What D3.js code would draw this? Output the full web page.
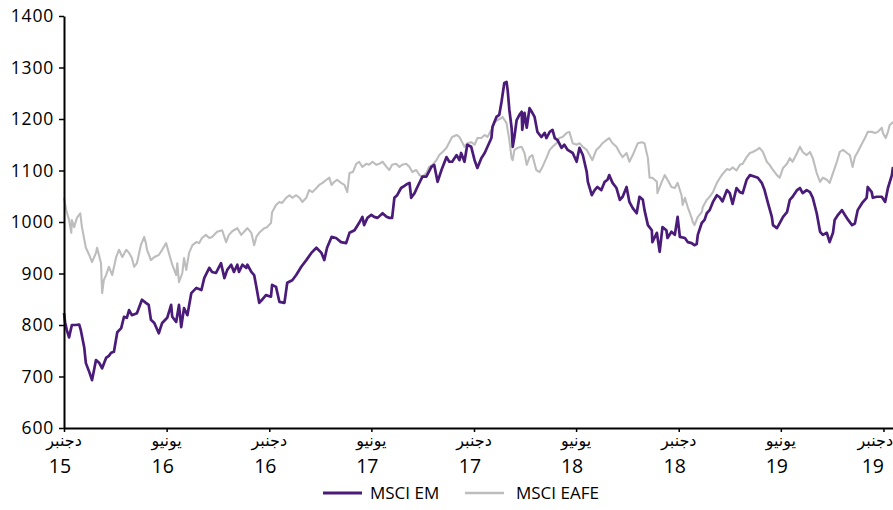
<!DOCTYPE html>
<html>
<head>
<meta charset="utf-8">
<script src="https://cdn.jsdelivr.net/npm/d3@7"></script>
<style>
  html, body { margin: 0; padding: 0; background: #fff; }
  svg { display: block; }
  .num { font-family: "Open Sans", "Noto Sans", sans-serif; fill: #000; }
  .ar { font-family: "DejaVu Sans", sans-serif; fill: #000; }
</style>
</head>
<body>
<svg id="chart" width="893" height="510"></svg>
<script>
// ---------------- DATA ----------------
const seriesNames = ["MSCI EM", "MSCI EAFE"];

const emDates = [
"2015-12-01","2015-12-03","2015-12-06","2015-12-10","2015-12-15","2015-12-22","2015-12-28","2015-12-31",
"2016-01-06","2016-01-09","2016-01-15","2016-01-20","2016-01-24","2016-01-27",
"2016-02-02","2016-02-07","2016-02-14","2016-02-19","2016-02-23","2016-02-28",
"2016-03-05","2016-03-12","2016-03-17","2016-03-22","2016-03-26","2016-03-31",
"2016-04-09","2016-04-18","2016-04-25","2016-04-30",
"2016-05-04","2016-05-10","2016-05-18","2016-05-24",
"2016-06-02","2016-06-09","2016-06-11","2016-06-18","2016-06-23","2016-06-27",
"2016-07-02","2016-07-08","2016-07-15","2016-07-24",
"2016-08-02","2016-08-07","2016-08-16","2016-08-21","2016-08-28",
"2016-09-06","2016-09-12","2016-09-17","2016-09-24","2016-09-29",
"2016-10-05","2016-10-08","2016-10-14","2016-10-21","2016-10-23","2016-10-30",
"2016-11-04","2016-11-08","2016-11-13","2016-11-18","2016-11-25",
"2016-12-04","2016-12-06","2016-12-13","2016-12-19","2016-12-28",
"2017-01-02","2017-01-11","2017-01-18","2017-01-27",
"2017-02-05","2017-02-14","2017-02-23",
"2017-03-04","2017-03-09","2017-03-14","2017-03-22","2017-03-30",
"2017-04-08","2017-04-17","2017-04-23",
"2017-05-02","2017-05-10","2017-05-16","2017-05-19","2017-05-25",
"2017-06-01","2017-06-06","2017-06-12","2017-06-21","2017-06-28",
"2017-07-03","2017-07-08","2017-07-12","2017-07-17","2017-07-24","2017-07-30",
"2017-08-04","2017-08-08","2017-08-11","2017-08-17","2017-08-22","2017-08-31",
"2017-09-07","2017-09-16","2017-09-21","2017-09-27",
"2017-10-04","2017-10-13","2017-10-18","2017-10-23","2017-10-31",
"2017-11-05","2017-11-08","2017-11-14","2017-11-19","2017-11-26",
"2017-12-02","2017-12-07","2017-12-14","2017-12-20","2017-12-25",
"2018-01-01","2018-01-03","2018-01-10","2018-01-15","2018-01-19","2018-01-24","2018-01-28","2018-01-30",
"2018-02-02","2018-02-06","2018-02-08","2018-02-11","2018-02-15","2018-02-20","2018-02-24","2018-02-25",
"2018-03-01","2018-03-05","2018-03-10","2018-03-15","2018-03-19","2018-03-24","2018-03-31",
"2018-04-06","2018-04-09","2018-04-15","2018-04-20","2018-04-24","2018-04-29",
"2018-05-06","2018-05-11","2018-05-17","2018-05-26",
"2018-06-02","2018-06-07","2018-06-13","2018-06-20","2018-06-22","2018-06-29",
"2018-07-04","2018-07-09","2018-07-16","2018-07-22","2018-07-27","2018-07-30",
"2018-08-05","2018-08-12","2018-08-18","2018-08-23","2018-08-30",
"2018-09-04","2018-09-10","2018-09-17","2018-09-22","2018-09-28",
"2018-10-01","2018-10-07","2018-10-14","2018-10-15","2018-10-23","2018-10-28",
"2018-11-02","2018-11-09","2018-11-11","2018-11-18","2018-11-24","2018-11-29",
"2018-12-03","2018-12-12","2018-12-17","2018-12-24","2018-12-29",
"2019-01-02","2019-01-04","2019-01-11","2019-01-16","2019-01-20","2019-01-25","2019-01-31",
"2019-02-07","2019-02-12","2019-02-17","2019-02-25",
"2019-03-02","2019-03-07","2019-03-14","2019-03-20","2019-03-25",
"2019-04-01","2019-04-07","2019-04-16","2019-04-21","2019-04-28",
"2019-05-03","2019-05-09","2019-05-16","2019-05-18","2019-05-25","2019-05-30",
"2019-06-05","2019-06-12","2019-06-17","2019-06-22","2019-06-30",
"2019-07-05","2019-07-10","2019-07-17","2019-07-23","2019-07-28",
"2019-08-04","2019-08-10","2019-08-15","2019-08-22","2019-08-27",
"2019-09-02","2019-09-05","2019-09-11","2019-09-18","2019-09-23","2019-09-29",
"2019-10-06","2019-10-11","2019-10-16","2019-10-24",
"2019-11-01","2019-11-03","2019-11-10","2019-11-12","2019-11-19","2019-11-28",
"2019-12-04","2019-12-09","2019-12-16","2019-12-18"
];
const emValues = [
823,805,790,776,800,800,801,790,
757,726,709,693,715,732,
726,716,736,740,746,748,
786,794,816,814,829,819,
823,849,843,839,
810,804,784,804,
814,839,816,806,839,796,
833,819,862,872,
868,891,911,903,901,
920,891,907,917,903,
917,903,917,911,917,903,
897,874,843,849,858,
855,878,874,845,843,
882,887,897,913,
926,940,950,
940,926,950,971,969,
961,959,979,
984,998,1010,994,1008,
1014,1010,1008,1017,1010,
1008,1008,1047,1052,1066,1070,
1074,1076,1047,1056,1068,1088,
1088,1107,1111,1078,
1101,1126,1117,1117,1130,
1120,1134,1117,1150,1146,
1120,1105,1124,1134,1146,
1163,1185,1204,1208,1233,1270,1272,1256,
1218,1183,1146,1165,1198,1208,1214,1179,
1212,1183,1221,1212,1204,1175,1165,
1173,1163,1175,1179,1163,1159,
1144,1150,1140,1134,
1117,1144,1130,1097,1078,1052,
1062,1068,1062,1078,1082,1091,
1076,1066,1043,1049,1068,
1039,1027,1017,1049,1043,
1023,994,984,961,979,942,
990,984,969,981,975,1010,
971,969,961,959,955,
957,975,998,1004,1017,1023,1039,
1052,1048,1040,1062,
1056,1035,1066,1058,1056,
1082,1091,1088,1086,1076,
1062,1037,1010,994,988,998,
1010,1019,1043,1049,1062,
1066,1056,1062,1058,1047,
1017,981,975,979,961,
979,1004,1014,1023,1014,1004,
994,997,1023,1037,
1047,1068,1058,1047,1049,1049,
1039,1066,1091,1107
];

const eafeDates = [
"2015-12-01","2015-12-05","2015-12-10","2015-12-14","2015-12-15","2015-12-19","2015-12-24","2015-12-30",
"2016-01-02","2016-01-09","2016-01-15","2016-01-20","2016-01-27","2016-01-29",
"2016-02-05","2016-02-07","2016-02-10","2016-02-14","2016-02-19","2016-02-25",
"2016-03-03","2016-03-08","2016-03-14","2016-03-21","2016-03-26","2016-03-31",
"2016-04-04","2016-04-09","2016-04-16","2016-04-22","2016-04-25","2016-04-27",
"2016-05-04","2016-05-10","2016-05-18","2016-05-24","2016-05-31",
"2016-06-06","2016-06-11","2016-06-18","2016-06-20","2016-06-23","2016-06-29",
"2016-07-02","2016-07-06","2016-07-11","2016-07-17","2016-07-24","2016-07-29",
"2016-08-03","2016-08-10","2016-08-16","2016-08-21","2016-08-30",
"2016-09-08","2016-09-15","2016-09-20","2016-09-26",
"2016-10-05","2016-10-12","2016-10-17","2016-10-23","2016-10-30",
"2016-11-04","2016-11-08","2016-11-13","2016-11-22","2016-11-27",
"2016-12-04","2016-12-06","2016-12-13","2016-12-19","2016-12-24","2016-12-31",
"2017-01-06","2017-01-11","2017-01-18","2017-01-24","2017-01-29",
"2017-02-05","2017-02-10","2017-02-16","2017-02-23","2017-02-28",
"2017-03-06","2017-03-13","2017-03-18","2017-03-22","2017-03-27",
"2017-04-01","2017-04-08","2017-04-14","2017-04-19","2017-04-23","2017-04-29",
"2017-05-05","2017-05-10","2017-05-16","2017-05-23","2017-05-28",
"2017-06-03","2017-06-10","2017-06-15","2017-06-21","2017-06-28",
"2017-07-03","2017-07-08","2017-07-15","2017-07-21","2017-07-26",
"2017-08-02","2017-08-08","2017-08-13","2017-08-20","2017-08-26","2017-08-31",
"2017-09-07","2017-09-12","2017-09-18","2017-09-25","2017-09-30",
"2017-10-06","2017-10-13","2017-10-18","2017-10-23","2017-10-31",
"2017-11-05","2017-11-08","2017-11-14","2017-11-19","2017-11-26",
"2017-12-02","2017-12-07","2017-12-14","2017-12-20","2017-12-25",
"2018-01-01","2018-01-07","2018-01-12","2018-01-19","2018-01-21","2018-01-28","2018-01-30",
"2018-02-02","2018-02-06","2018-02-08","2018-02-11","2018-02-17","2018-02-24",
"2018-03-01","2018-03-05","2018-03-10","2018-03-15","2018-03-22","2018-03-28",
"2018-04-02","2018-04-09","2018-04-15","2018-04-20","2018-04-27",
"2018-05-02","2018-05-08","2018-05-15","2018-05-20","2018-05-26",
"2018-06-02","2018-06-07","2018-06-13","2018-06-20","2018-06-25","2018-06-30",
"2018-07-07","2018-07-13","2018-07-18","2018-07-25","2018-07-30",
"2018-08-05","2018-08-12","2018-08-18","2018-08-23","2018-08-30",
"2018-09-04","2018-09-10","2018-09-19","2018-09-26",
"2018-10-01","2018-10-07","2018-10-10","2018-10-15","2018-10-23","2018-10-24","2018-10-31",
"2018-11-06","2018-11-11","2018-11-18","2018-11-24","2018-11-29",
"2018-12-06","2018-12-08","2018-12-12","2018-12-17","2018-12-24","2018-12-26","2018-12-29",
"2019-01-04","2019-01-11","2019-01-13","2019-01-20","2019-01-25","2019-01-31",
"2019-02-07","2019-02-12","2019-02-17","2019-02-25",
"2019-03-02","2019-03-07","2019-03-14","2019-03-20","2019-03-25",
"2019-04-01","2019-04-07","2019-04-12","2019-04-19","2019-04-24","2019-04-30",
"2019-05-07","2019-05-12","2019-05-18","2019-05-25","2019-05-30",
"2019-06-05","2019-06-12","2019-06-17","2019-06-22","2019-06-30",
"2019-07-05","2019-07-10","2019-07-17","2019-07-23","2019-07-28",
"2019-08-04","2019-08-10","2019-08-15","2019-08-22","2019-08-27",
"2019-09-02","2019-09-09","2019-09-14","2019-09-20","2019-09-27",
"2019-10-02","2019-10-07","2019-10-11","2019-10-16","2019-10-24","2019-10-29",
"2019-11-03","2019-11-10","2019-11-16","2019-11-21","2019-11-28","2019-11-30",
"2019-12-05","2019-12-09","2019-12-12","2019-12-18"
];
const eafeValues = [
1047,1023,1004,979,1004,990,1008,1017,
990,950,936,922,940,950,
920,862,887,897,913,897,
932,946,932,946,940,930,
913,920,955,971,959,946,
926,932,936,946,959,
936,917,897,920,883,901,
930,907,940,955,961,959,
969,975,969,971,981,
984,961,975,982,
988,975,981,988,979,
955,971,979,988,990,
998,1019,1033,1039,1037,1047,
1052,1047,1052,1047,1039,
1047,1062,1058,1066,1072,
1076,1082,1086,1072,1078,
1082,1076,1072,1058,1095,1097,
1113,1117,1107,1113,1111,
1117,1111,1113,1117,1107,
1101,1111,1113,1107,1111,
1113,1107,1097,1101,1091,1088,
1095,1107,1111,1120,1130,
1136,1144,1155,1165,1169,
1165,1159,1146,1153,1155,
1150,1163,1163,1169,1165,
1179,1194,1198,1202,1204,1192,1179,
1159,1124,1120,1140,1144,1146,
1134,1111,1126,1130,1101,1097,
1107,1124,1140,1146,1153,
1163,1165,1173,1175,1153,
1150,1153,1146,1140,1130,1120,
1140,1146,1153,1159,1163,
1153,1146,1134,1126,1134,
1117,1130,1153,1155,
1153,1124,1086,1086,1078,1056,1076,
1091,1082,1068,1066,1076,
1052,1033,1047,1029,1008,1000,994,
1010,1019,1029,1043,1049,1058,
1076,1085,1093,1103,
1101,1106,1100,1111,1113,
1126,1134,1136,1140,1144,1136,
1117,1111,1101,1091,1086,
1105,1113,1124,1117,1134,
1146,1136,1130,1136,1124,
1095,1078,1086,1082,1076,
1095,1117,1136,1140,1134,
1130,1107,1126,1136,1153,1163,
1175,1175,1173,1175,1183,1173,
1163,1175,1188,1194
];

const xTickDates = ["2015-12-01","2016-06-01","2016-12-01","2017-06-01","2017-12-01","2018-06-01","2018-12-01","2019-06-01","2019-12-01"];
const xTickMonths = ["دجنبر","يونيو","دجنبر","يونيو","دجنبر","يونيو","دجنبر","يونيو","دجنبر"];
const xTickYears = ["15","16","16","17","17","18","18","19","19"];
const yTicks = [600,700,800,900,1000,1100,1200,1300,1400];
const xDomain = ["2015-12-01","2019-12-18"];

// ---------------- DRAW ----------------
(function () {
  const parse = d3.timeParse("%Y-%m-%d");
  const colors = { "MSCI EM": "#4a1b78", "MSCI EAFE": "#bdbdbd" };
  const widths = { "MSCI EM": 2.7, "MSCI EAFE": 2.1 };
  const W = 893;

  const svg = d3.select("#chart");
  const mLeft = 64, mRight = 893, mTop = 16, mBottom = 428;

  const x = d3.scaleTime().domain(xDomain.map(parse)).range([mLeft, mRight]);
  const y = d3.scaleLinear().domain([600, 1400]).range([mBottom, mTop]);

  const em = emDates.map((d, i) => ({ date: parse(d), value: emValues[i] }));
  const eafe = eafeDates.map((d, i) => ({ date: parse(d), value: eafeValues[i] }));
  const series = { "MSCI EM": em, "MSCI EAFE": eafe };

  const line = d3.line().x(d => x(d.date)).y(d => y(d.value));

  ["MSCI EAFE", "MSCI EM"].forEach(name => {
    svg.append("path")
      .datum(series[name])
      .attr("fill", "none")
      .attr("stroke", colors[name])
      .attr("stroke-width", widths[name])
      .attr("stroke-linejoin", "round")
      .attr("d", line);
  });

  const yAxis = svg.append("g")
    .attr("transform", `translate(${mLeft},0)`)
    .call(d3.axisLeft(y).tickValues(yTicks).tickSize(5).tickSizeOuter(0).tickPadding(5).tickFormat(d3.format("d")));
  yAxis.select(".domain").attr("stroke", "#000").attr("stroke-width", 2);
  yAxis.selectAll(".tick line").attr("stroke", "#000").attr("stroke-width", 1.5);
  yAxis.selectAll(".tick text").attr("class", "num")
    .style("font-size", "17.5px").style("letter-spacing", "0.8px").attr("fill", "#000");

  const xAxis = svg.append("g")
    .attr("transform", `translate(0,${mBottom})`)
    .call(d3.axisBottom(x).tickValues(xTickDates.map(parse)).tickSize(4).tickSizeOuter(0).tickFormat(""));
  xAxis.select(".domain").attr("stroke", "#000").attr("stroke-width", 2);
  xAxis.selectAll(".tick line").attr("stroke", "#000").attr("stroke-width", 1.5);

  const labels = svg.append("g");
  xTickDates.forEach((d, i) => {
    const px = x(parse(d));
    const ar = labels.append("text").attr("class", "ar")
      .attr("x", px).attr("y", 446)
      .attr("text-anchor", "middle")
      .style("font-size", "16px")
      .text(xTickMonths[i]);
    const bb = ar.node().getBBox();
    if (bb.x + bb.width > W) ar.attr("text-anchor", "end").attr("x", W);
    const yr = labels.append("text").attr("class", "num")
      .attr("x", px - 4).attr("y", 473)
      .attr("text-anchor", "middle")
      .style("font-size", "19.5px")
      .text(xTickYears[i]);
    const bb2 = yr.node().getBBox();
    if (bb2.x + bb2.width > W - 8) yr.attr("text-anchor", "end").attr("x", W - 9);
  });

  const legendItems = [
    { name: seriesNames[0], x0: 323, tx: 370 },
    { name: seriesNames[1], x0: 465, tx: 516 }
  ];
  const lg = svg.append("g");
  legendItems.forEach(it => {
    lg.append("line")
      .attr("x1", it.x0).attr("x2", it.x0 + 39)
      .attr("y1", 493).attr("y2", 493)
      .attr("stroke", colors[it.name])
      .attr("stroke-width", it.name === "MSCI EM" ? 3 : 2.5);
    lg.append("text").attr("class", "num")
      .attr("x", it.tx).attr("y", 499)
      .style("font-size", "17px")
      .text(it.name);
  });
})();
</script>
</body>
</html>
